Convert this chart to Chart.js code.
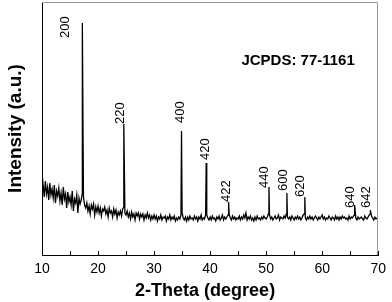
<!DOCTYPE html>
<html>
<head>
<meta charset="utf-8">
<script src="https://cdn.jsdelivr.net/npm/chart.js@4.4.0/dist/chart.umd.min.js"></script>
<style>
    html, body { margin: 0; padding: 0; background: #fff; }
</style>
</head>
<body>
<canvas id="xrdChart" width="392" height="302"></canvas>
<script>
// XRD scan, 2-theta from 10 to 70 degree, step 0.2
const scanStart = 10;
const scanStep = 0.2;

// background intensity, one row per degree (5 readings each)
const background = [
    82, 70, 58, 74, 61,   // 10
    68, 55, 72, 60, 66,   // 11
    57, 70, 52, 64, 59,   // 12
    67, 54, 62, 50, 68,   // 13
    56, 61, 47, 63, 53,   // 14
    58, 50, 64, 44, 56,   // 15
    52, 60, 42, 57, 51,   // 16
    55, 62, 58, 50, 47,   // 17
    52, 44, 49, 41, 50,   // 18
    46, 51, 40, 48, 43,   // 19
    49, 42, 47, 39, 46,   // 20
    44, 48, 41, 45, 38,   // 21
    47, 42, 44, 38, 46,   // 22
    41, 45, 37, 43, 40,   // 23
    44, 39, 46, 48, 42,   // 24
    40, 44, 38, 42, 36,   // 25
    43, 38, 41, 35, 42,   // 26
    39, 42, 36, 41, 38,   // 27
    41, 35, 40, 37, 42,   // 28
    37, 40, 35, 39, 36,   // 29
    40, 36, 39, 34, 38,   // 30
    36, 40, 35, 38, 37,   // 31
    39, 34, 38, 36, 40,   // 32
    35, 38, 36, 39, 34,   // 33
    37, 35, 38, 36, 40,   // 34
    42, 37, 35, 38, 34,   // 35
    38, 35, 39, 36, 37,   // 36
    35, 39, 36, 38, 34,   // 37
    38, 36, 40, 35, 37,   // 38
    36, 40, 40, 37, 35,   // 39
    38, 35, 39, 36, 37,   // 40
    34, 38, 36, 39, 35,   // 41
    37, 40, 35, 38, 36,   // 42
    38, 40, 41, 37, 35,   // 43
    39, 36, 38, 35, 37,   // 44
    36, 39, 35, 38, 36,   // 45
    40, 37, 42, 35, 38,   // 46
    36, 39, 35, 37, 34,   // 47
    38, 35, 39, 36, 37,   // 48
    35, 38, 36, 39, 37,   // 49
    36, 38, 41, 40, 36,   // 50
    38, 35, 37, 39, 36,   // 51
    37, 40, 35, 38, 37,   // 52
    36, 39, 37, 41, 38,   // 53
    36, 38, 35, 39, 37,   // 54
    35, 38, 36, 39, 36,   // 55
    38, 35, 37, 40, 41,   // 56
    37, 35, 38, 36, 39,   // 57
    36, 38, 35, 37, 39,   // 58
    37, 35, 38, 36, 38,   // 59
    40, 36, 38, 35, 37,   // 60
    36, 39, 37, 35, 38,   // 61
    37, 35, 39, 36, 38,   // 62
    35, 38, 36, 39, 37,   // 63
    38, 36, 37, 35, 39,   // 64
    36, 38, 37, 39, 40,   // 65
    37, 35, 38, 36, 37,   // 66
    38, 36, 35, 39, 37,   // 67
    36, 38, 40, 41, 39,   // 68
    37, 35, 38, 36, 37,   // 69
    36                    // 70
];

// diffraction peaks
const peakTheta  = [17.2, 24.6, 34.9, 39.3, 43.3, 50.5, 53.7, 56.9, 65.8, 68.6];
const peakHeight = [232, 131, 124, 92, 53, 68, 62, 58, 50, 45];
const peakLabels = ['200', '220', '400', '420', '422', '440', '600', '620', '640', '642'];

// x axis ticks
const xMajorTicks = [10, 20, 30, 40, 50, 60, 70];
const xMinorTicks = [15, 25, 35, 45, 55, 65];

// where the hkl labels sit (bottom of the rotated text)
const labelTheta  = [14.2, 24.0, 34.65, 39.2, 43.0, 49.65, 53.0, 56.1, 65.1, 67.9];
const labelHeight = [217, 131, 132, 95, 53, 67, 64, 58, 47, 47];

const cardText = 'JCPDS: 77-1161';
const cardTheta = 55.7;
const cardHeight = 194;

const FONT = "'Liberation Sans', Arial, sans-serif";

const points = background.map((v, i) => ({ x: +(scanStart + i * scanStep).toFixed(1), y: v }));
peakTheta.forEach((t, i) => points.push({ x: t, y: peakHeight[i] }));
points.sort((a, b) => a.x - b.x);

const xrdDecor = {
    id: 'xrdDecor',
    afterDraw(chart) {
        const { ctx, chartArea: a, scales: { x, y } } = chart;
        ctx.save();

        // top + right frame
        ctx.strokeStyle = '#999';
        ctx.lineWidth = 1;
        ctx.beginPath();
        ctx.moveTo(a.left, a.top + 0.5);
        ctx.lineTo(Math.round(a.right) - 0.5, a.top + 0.5);
        ctx.lineTo(Math.round(a.right) - 0.5, a.bottom);
        ctx.stroke();

        // inward tick marks
        ctx.strokeStyle = '#000';
        x.ticks.forEach(t => {
            const px = Math.round(x.getPixelForValue(t.value)) + 0.5;
            ctx.beginPath();
            ctx.moveTo(px, a.bottom);
            ctx.lineTo(px, a.bottom - 4);
            ctx.stroke();
        });

        // hkl labels
        ctx.fillStyle = '#000';
        ctx.font = '13px ' + FONT;
        ctx.textAlign = 'left';
        ctx.textBaseline = 'middle';
        peakLabels.forEach((lab, i) => {
            ctx.save();
            ctx.translate(x.getPixelForValue(labelTheta[i]), y.getPixelForValue(labelHeight[i]));
            ctx.rotate(-Math.PI / 2);
            ctx.fillText(lab, 0, 0);
            ctx.restore();
        });

        // card number
        ctx.font = 'bold 15px ' + FONT;
        ctx.textAlign = 'center';
        ctx.fillText(cardText, x.getPixelForValue(cardTheta), y.getPixelForValue(cardHeight));

        // x axis title
        ctx.font = 'bold 18px ' + FONT;
        ctx.fillText('2-Theta (degree)', (a.left + a.right) / 2 - 5, a.bottom + 36);

        ctx.restore();
    }
};

new Chart(document.getElementById('xrdChart').getContext('2d'), {
    type: 'line',
    data: {
        datasets: [{
            data: points,
            borderColor: '#000',
            borderWidth: 1.3,
            pointRadius: 0,
            tension: 0,
            fill: false
        }]
    },
    options: {
        responsive: false,
        animation: false,
        devicePixelRatio: 1,
        layout: { padding: { left: 4, top: 2, right: 8, bottom: 0 } },
        plugins: {
            legend: { display: false },
            tooltip: { enabled: false }
        },
        scales: {
            x: {
                type: 'linear',
                min: 10,
                max: 70,
                afterBuildTicks: s => {
                    s.ticks = xMajorTicks.concat(xMinorTicks).sort((a, b) => a - b).map(v => ({ value: v }));
                },
                ticks: {
                    autoSkip: false,
                    maxRotation: 0,
                    padding: 6,
                    color: '#000',
                    font: { family: FONT, size: 14 },
                    callback: v => xMajorTicks.includes(v) ? String(v) : ''
                },
                grid: { display: false, drawTicks: false },
                border: { color: '#000', width: 1 },
                afterFit: s => { s.height = 47; }
            },
            y: {
                min: 0,
                max: 253,
                ticks: { display: false },
                grid: { display: false, drawTicks: false },
                border: { color: '#000', width: 1 },
                title: {
                    display: true,
                    text: 'Intensity (a.u.)',
                    color: '#000',
                    padding: 0,
                    font: { family: FONT, size: 19, weight: 'bold' }
                },
                afterFit: s => { s.width = 38; }
            }
        }
    },
    plugins: [xrdDecor]
});
</script>
</body>
</html>
